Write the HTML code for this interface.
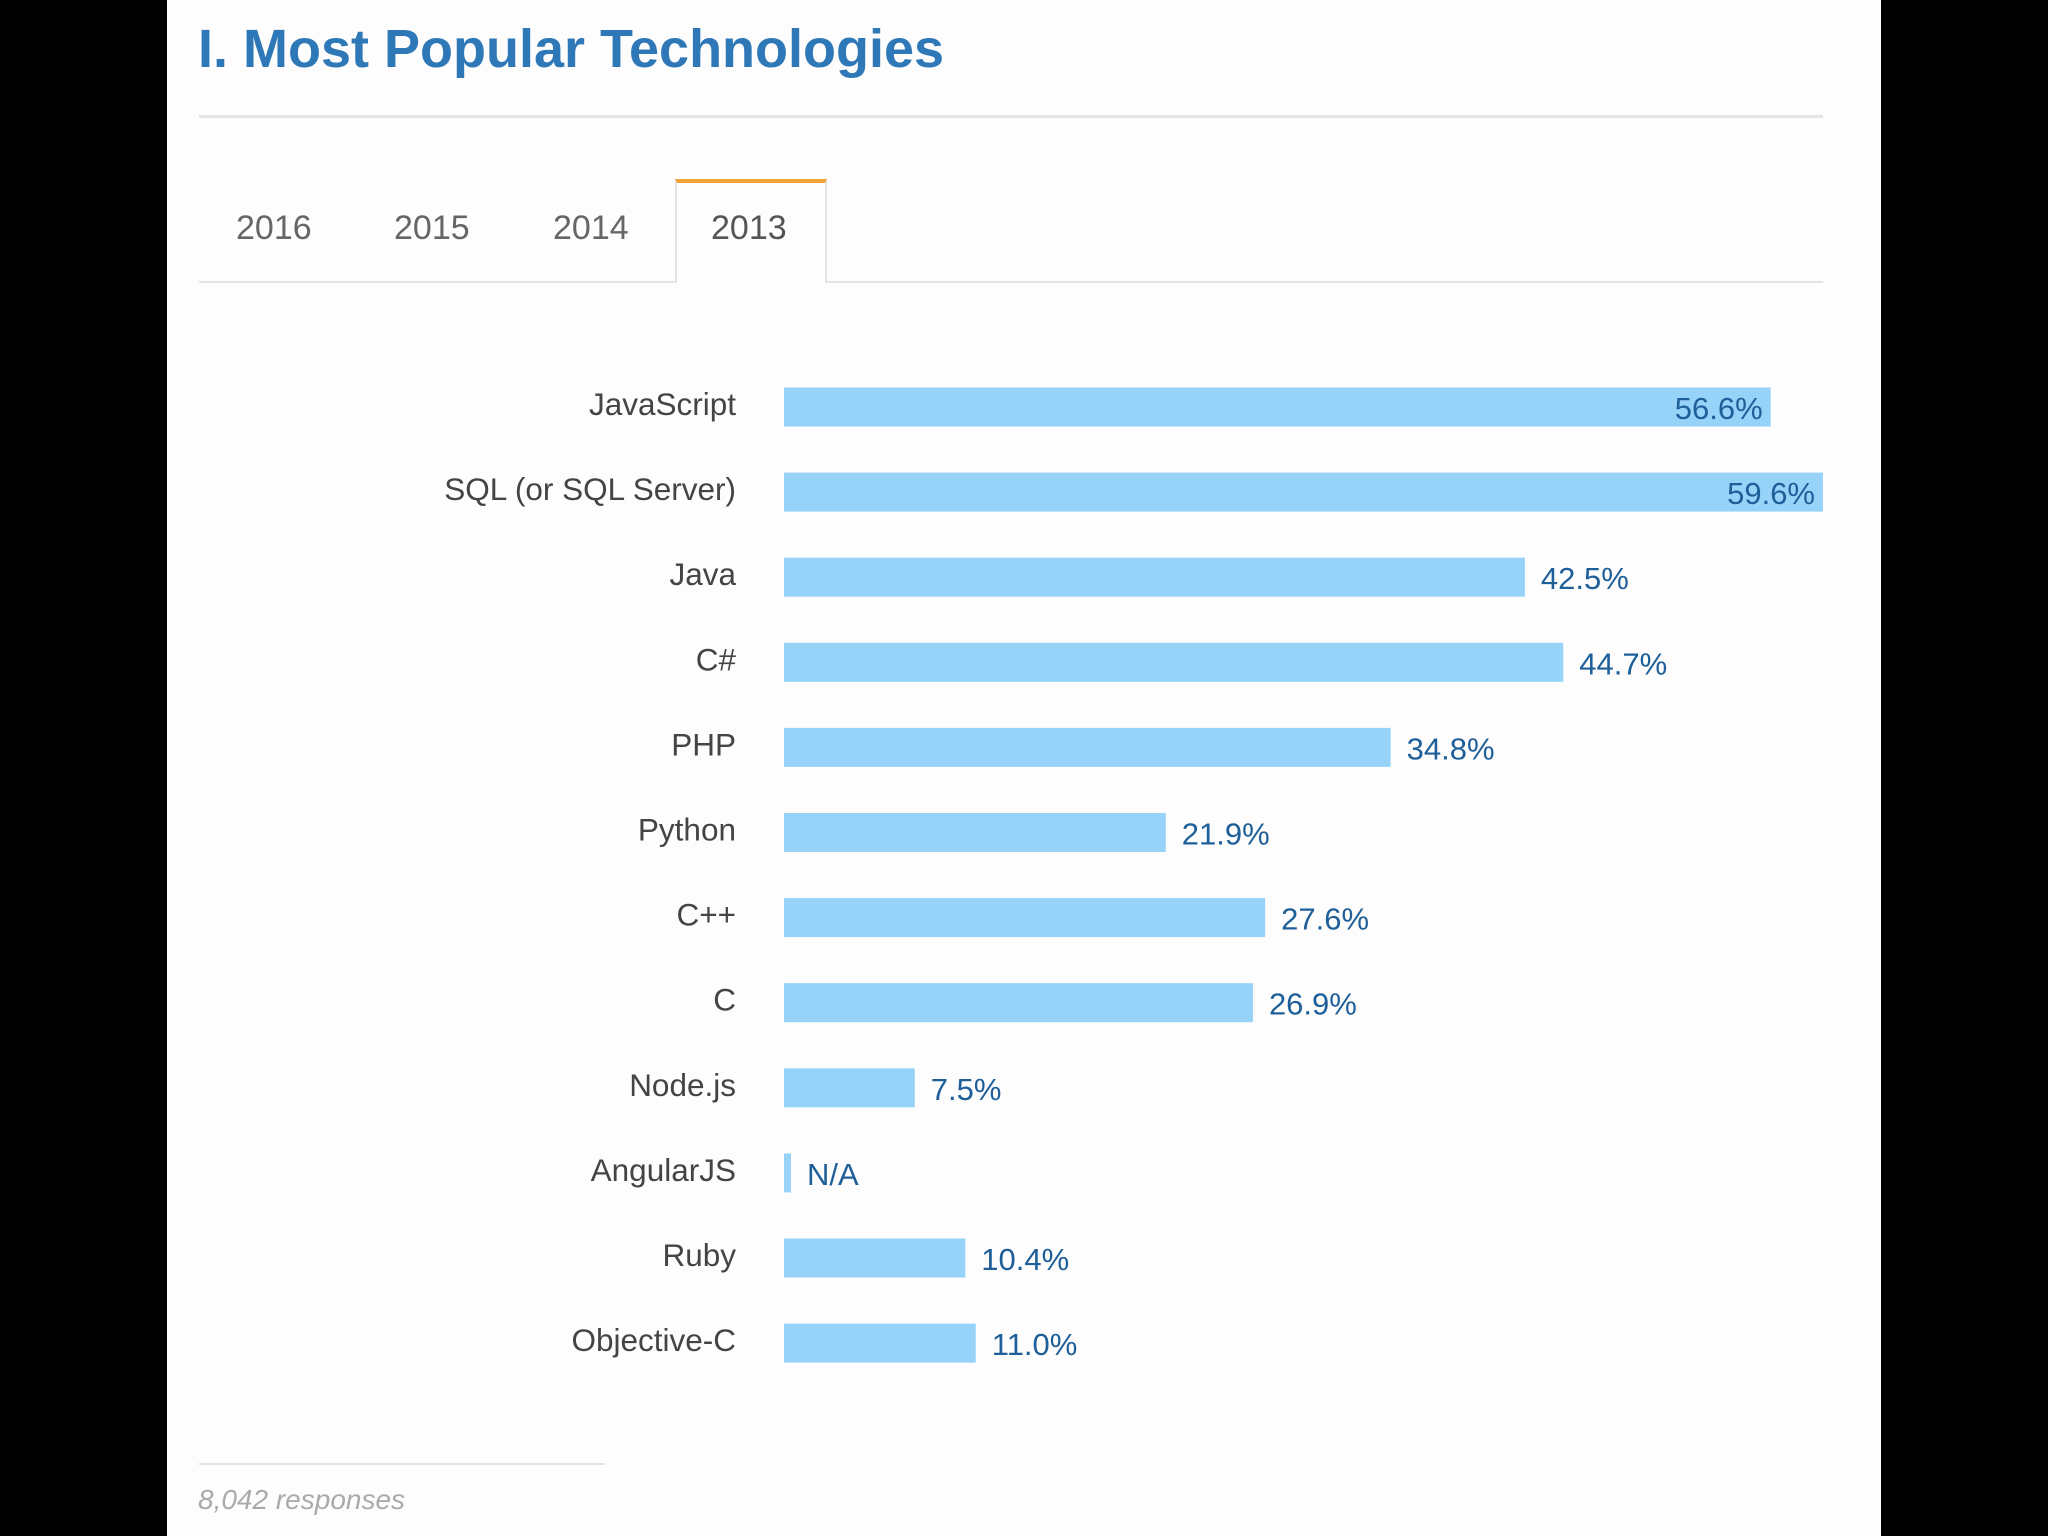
<!DOCTYPE html>
<html><head><meta charset="utf-8"><style>
html,body{margin:0;padding:0;}
body{width:2048px;height:1536px;background:#000;position:relative;overflow:hidden;font-family:"Liberation Sans",Arial,sans-serif;}
#page{position:absolute;left:167px;top:0;width:1714px;height:1536px;background:#fdfdfd;}
.abs{position:absolute;}
</style></head><body>
<div id="page"></div>
<div class="abs" style="left:198px;top:18px;font-size:54px;font-weight:bold;color:#2f78b8;">I. Most Popular Technologies</div>
<div class="abs" style="left:199px;top:115px;width:1624px;height:3px;background:#e4e4e4;"></div>
<div class="abs" style="left:199px;top:281px;width:1624px;height:2px;background:#e4e4e4;"></div>
<div class="abs" style="left:675px;top:179px;width:152px;height:104px;background:#fdfdfd;border-left:2px solid #e4e4e4;border-right:2px solid #e4e4e4;border-top:4px solid #f2a33a;box-sizing:border-box;"></div>
<div class="abs" style="left:236px;top:209px;font-size:34px;color:#666;">2016</div>
<div class="abs" style="left:394px;top:209px;font-size:34px;color:#666;">2015</div>
<div class="abs" style="left:553px;top:209px;font-size:34px;color:#666;">2014</div>
<div class="abs" style="left:711px;top:209px;font-size:34px;color:#555;">2013</div>
<svg class="abs" id="chart" style="left:0;top:0;" width="2048" height="1536"></svg>
<div class="abs" style="left:199px;top:1463px;width:406px;height:2px;background:#e4e4e4;"></div>
<div class="abs" style="left:198px;top:1484px;font-size:28px;font-style:italic;color:#aaa;">8,042 responses</div>
<script>
const categories=["JavaScript","SQL (or SQL Server)","Java","C#","PHP","Python","C++","C","Node.js","AngularJS","Ruby","Objective-C"];
const values=[56.6,59.6,42.5,44.7,34.8,21.9,27.6,26.9,7.5,0,10.4,11.0];
const valueLabels=["56.6%","59.6%","42.5%","44.7%","34.8%","21.9%","27.6%","26.9%","7.5%","N/A","10.4%","11.0%"];
const NS="http://www.w3.org/2000/svg";
const svg=document.getElementById('chart');
const x0=784,x1=1823,maxV=59.6;
function xs(v){return x0+(x1-x0)*v/maxV;}
function ys(i){return 407+i*85.1;}
const bh=39;
categories.forEach((c,i)=>{
  const cy=ys(i);
  const w=values[i]>0?xs(values[i])-x0:7;
  const r=document.createElementNS(NS,'rect');
  
  
  r.setAttribute('x',x0);r.setAttribute('y',cy-bh/2);r.setAttribute('width',w);r.setAttribute('height',bh);r.setAttribute('fill','#97d3f9');
  svg.appendChild(r);
  const l=document.createElementNS(NS,'text');
  
  
  l.setAttribute('x',736);l.setAttribute('y',cy+8);l.setAttribute('text-anchor','end');
  l.setAttribute('font-size','31.5');l.setAttribute('fill','#444');l.setAttribute('font-family','Liberation Sans, sans-serif');
  l.textContent=c;svg.appendChild(l);
  const t=document.createElementNS(NS,'text');
  
  
  const inside=xs(values[i])>1700;
  t.setAttribute('x',inside?x0+w-8:x0+w+16);
  t.setAttribute('text-anchor',inside?'end':'start');
  t.setAttribute('y',cy+12);t.setAttribute('font-size','31');t.setAttribute('fill','#1f5f99');t.setAttribute('font-family','Liberation Sans, sans-serif');
  t.textContent=valueLabels[i];svg.appendChild(t);
});
</script>
</body></html>
